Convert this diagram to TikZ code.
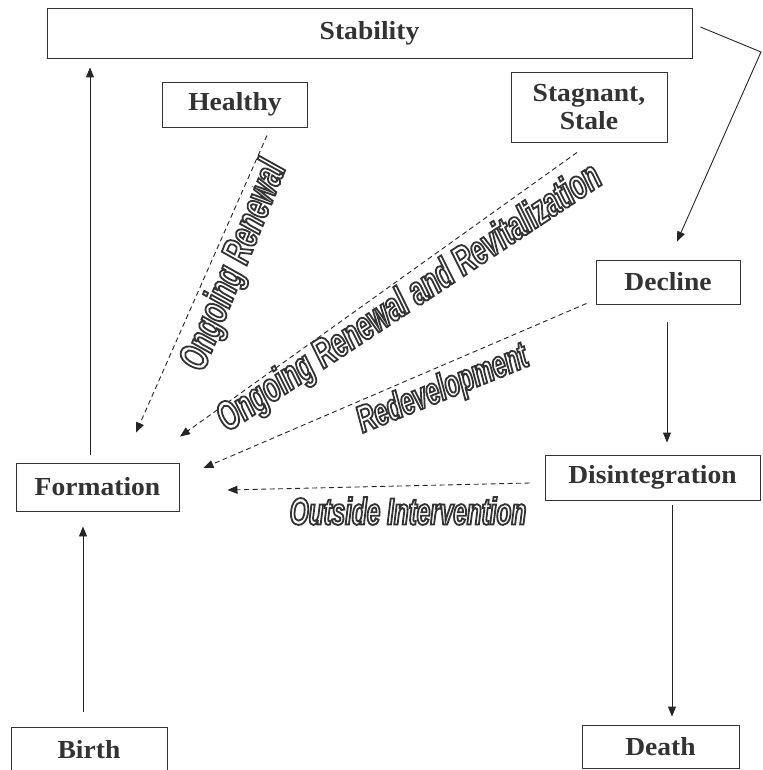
\documentclass[tikz,border=0pt]{standalone}
\usepackage{fontspec}
\setmainfont{Liberation Serif}[FakeStretch=1.06]
\newfontfamily\lblfont[FakeStretch=0.64]{Liberation Sans}
\usetikzlibrary{arrows.meta,calc}
\newcommand{\outlinetext}[1]{%
  \special{pdf:literal direct q 2 Tr 1.8 w 0.2 G 1 g}#1\special{pdf:literal direct Q}}
\tikzset{
  box/.style={draw=black!80, line width=0.9pt, font=\bfseries\fontsize{26}{28}\selectfont, align=center, inner sep=0pt, text=black!80},
  arr/.style={draw=black!85, line width=0.9pt, -{Triangle[length=10pt,width=8pt]}},
  darr/.style={draw=black!85, line width=0.9pt, dash pattern=on 5pt off 3.5pt, -{Triangle[length=10pt,width=8pt]}},
  lbl/.style={font=\lblfont\bfseries\itshape\fontsize{38}{40}\selectfont, inner sep=0pt},
  biglbl/.style={lbl, font=\lblfont\bfseries\itshape\fontsize{41}{43}\selectfont}
}
\begin{document}
\begin{tikzpicture}[x=1pt,y=-1pt]
\useasboundingbox (0,0) rectangle (762,770);
\node[box, minimum width=645pt, minimum height=50pt] (stab) at (369.5,33) {Stability};
\node[box, minimum width=145pt, minimum height=45pt] (healthy) at (235,104.5) {Healthy};
\node[box, minimum width=156pt, minimum height=70pt] (stag) at (589,107) {Stagnant,\\Stale};
\node[box, minimum width=144pt, minimum height=44pt] (decline) at (668,282) {Decline};
\node[box, minimum width=215pt, minimum height=45pt] (disint) at (652.5,477.5) {Disintegration};
\node[box, minimum width=163pt, minimum height=48pt] (formation) at (97.5,487) {Formation};
\node[box, minimum width=156pt, minimum height=44pt, anchor=north] (birth) at (89,727) {Birth};
\node[box, minimum width=157pt, minimum height=43pt] (death) at (660.5,746.5) {Death};

\coordinate (cx1) at (90,0);
\coordinate (cx2) at (83,0);
\coordinate (cx3) at (667,0);
\coordinate (cx4) at (672,0);
\coordinate (bend) at (761,52);

\draw[arr, shorten <=8pt, shorten >=9pt] (formation.north -| cx1) -- (stab.south -| cx1);
\draw[arr, shorten <=15pt, shorten >=15pt] (birth.north -| cx2) -- (formation.south -| cx2);
\draw[arr] ($(stab.east)+(8,-6)$) -- (bend) -- ($(decline.north)+(9,-18)$);
\draw[arr, shorten <=18pt, shorten >=12pt] (decline.south -| cx3) -- (disint.north -| cx3);
\draw[arr, shorten <=5pt, shorten >=8pt] (disint.south -| cx4) -- (death.north -| cx4);

\draw[darr] ($(healthy.south)+(32,8)$) -- ($(formation.north)+(38.5,-30)$);
\draw[darr] ($(stag.south)+(-12,10)$) -- ($(formation.north)+(82.5,-26)$);
\draw[darr] ($(decline.south west)+(-9,-1)$) -- ($(formation.east)+(24,-19)$);
\draw[darr] ($(disint.west)+(-15,5.5)$) -- ($(formation.east)+(48,3)$);

\node[biglbl, rotate=68] (l1) at (235,266) {\outlinetext{Ongoing Renewal}};
\node[biglbl, rotate=33.5] (l2) at (410,299) {\outlinetext{Ongoing Renewal and Revitalization}};
\node[lbl, rotate=22] (l3) at (443,390) {\outlinetext{Redevelopment}};
\node[lbl] (l4) at (408,511) {\outlinetext{Outside Intervention}};
\end{tikzpicture}
\end{document}
